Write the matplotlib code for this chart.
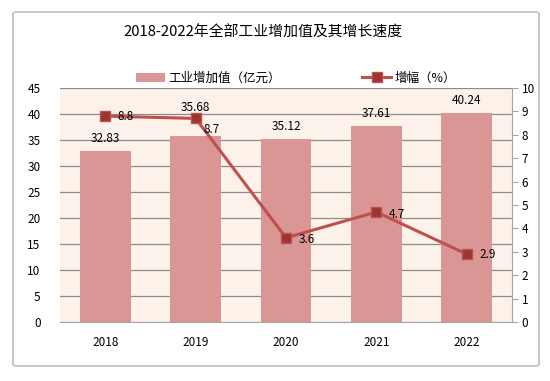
import matplotlib.pyplot as plt
from matplotlib.patches import FancyBboxPatch

plt.rcParams['font.family'] = ['Noto Sans CJK SC', 'DejaVu Sans']

years = ['2018', '2019', '2020', '2021', '2022']
added_value = [32.83, 35.68, 35.12, 37.61, 40.24]
growth = [8.8, 8.7, 3.6, 4.7, 2.9]

# label nudges in points (kept apart from the data)
bar_label_dy = [9, 21, 9, 9, 9]
line_label_off = [(9, 0), (6, -8), (9, -1.5), (9, -1.5), (9, 0)]

fig = plt.figure(figsize=(5.5, 3.81), dpi=100)

# outer chart border
fig.patches.append(FancyBboxPatch((13 / 550, 1 - 366 / 381), 526 / 550, 354 / 381,
                                  boxstyle='round,pad=0,rounding_size=0.005',
                                  transform=fig.transFigure, fill=False,
                                  edgecolor='#BFBFBF', linewidth=1.2))

ax = fig.add_axes([60 / 550, 1 - 322 / 381, 452 / 550, 234 / 381])
ax.set_facecolor('#FDF2EA')
x = range(len(years))
bars = ax.bar(x, added_value, width=0.56, color='#D99694', zorder=2)
ax.set_xlim(-0.5, 4.5)
ax.set_ylim(0, 45)
ax.set_yticks(range(0, 46, 5))
ax.yaxis.grid(True, color='#8C8C8C', linewidth=0.9, zorder=1)
ax.set_axisbelow(True)
ax.set_xticks(list(x))
ax.set_xticklabels(years)
ax.tick_params(axis='both', length=0, labelsize=8.5, colors='black')
ax.tick_params(axis='x', pad=10)
ax.tick_params(axis='y', pad=14)
for s in ['top', 'left', 'right']:
    ax.spines[s].set_visible(False)
ax.spines['bottom'].set_color('#A6A6A6')

ax2 = ax.twinx()
line, = ax2.plot(x, growth, color='#C0504D', linewidth=2.2, marker='s', markersize=7.5,
                 markerfacecolor='#9B3532', markeredgecolor='#C0504D', zorder=3)
ax2.set_ylim(0, 10)
ax2.set_yticks(range(0, 11))
ax2.tick_params(axis='y', direction='out', length=4, color='#A6A6A6', labelsize=8.5, pad=3)
for s in ['top', 'left', 'bottom']:
    ax2.spines[s].set_visible(False)
ax2.spines['right'].set_color('#A6A6A6')

for i, v in enumerate(added_value):
    ax2.annotate(f'{v:.2f}', xy=(i, v * 10 / 45), xytext=(0, bar_label_dy[i]),
                 textcoords='offset points', ha='center', va='center', fontsize=8.5)
for i, v in enumerate(growth):
    ax2.annotate(f'{v}', xy=(i, v), xytext=line_label_off[i],
                 textcoords='offset points', ha='left', va='center', fontsize=8.5)

fig.text(263 / 550, 1 - 33 / 381, '2018-2022年全部工业增加值及其增长速度',
         ha='center', va='center', fontsize=10.7)
fig.legend([bars, line], ['工业增加值（亿元）', '增幅（%）'], loc='center',
           bbox_to_anchor=(296 / 550, 1 - 78 / 381), ncol=2, frameon=False,
           fontsize=9, handlelength=2.3, columnspacing=6.5, handletextpad=0.3)

fig.savefig('out.png', dpi=100)
